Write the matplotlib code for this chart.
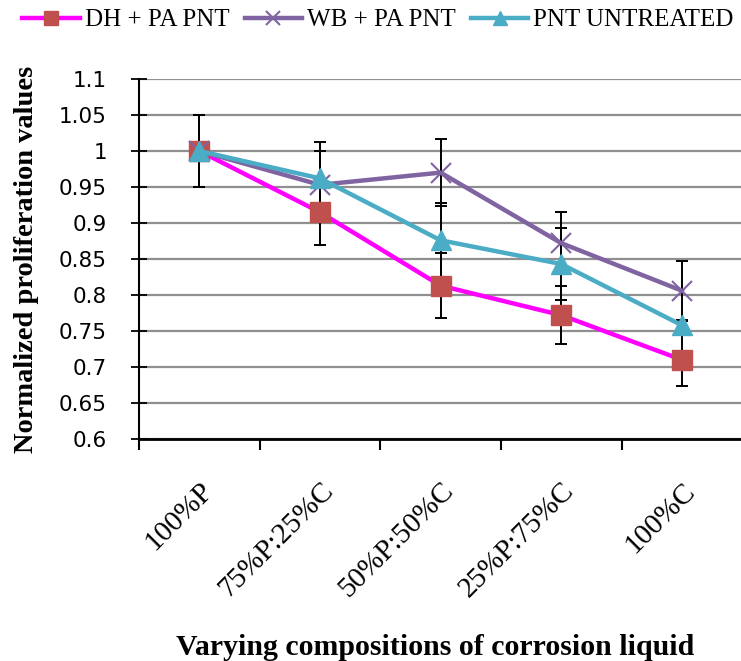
import numpy as np
import matplotlib
matplotlib.use("Agg")
import matplotlib.pyplot as plt
from matplotlib.ticker import FixedLocator

categories = ["100%P", "75%P:25%C", "50%P:50%C", "25%P:75%C", "100%C"]
dh_pa = [1.0, 0.915, 0.813, 0.772, 0.710]
wb_pa = [1.0, 0.953, 0.970, 0.872, 0.806]
pnt_untreated = [1.0, 0.962, 0.876, 0.843, 0.758]
dh_err = [0.05, 0.046, 0.045, 0.040, 0.036]
wb_err = [0.05, 0.047, 0.047, 0.043, 0.041]
pnt_err = [0.05, 0.050, 0.052, 0.050, 0.006]
labels = ["DH + PA PNT", "WB + PA PNT", "PNT UNTREATED"]
yticks = [0.6, 0.65, 0.7, 0.75, 0.8, 0.85, 0.9, 0.95, 1.0, 1.05, 1.1]
ytick_labels = ["0.6", "0.65", "0.7", "0.75", "0.8", "0.85", "0.9", "0.95", "1", "1.05", "1.1"]

SERIF = "Liberation Serif"

fig = plt.figure(figsize=(7.41, 6.61), dpi=100)
ax = fig.add_axes([139 / 741, 1 - 439 / 661, 602 / 741, 360 / 661])

x = np.arange(len(categories))

# error bars under the lines
for vals, err in [(dh_pa, dh_err), (wb_pa, wb_err), (pnt_untreated, pnt_err)]:
    ax.errorbar(x, vals, yerr=err, fmt="none", ecolor="black", elinewidth=1.4,
                capsize=4.5, capthick=1.4, zorder=2)

ax.plot(x, dh_pa, color="#FF00FF", lw=3.2, marker="s", ms=14,
        mfc="#C0504D", mec="#C0504D", label=labels[0], zorder=3)
ax.plot(x, wb_pa, color="#8064A2", lw=3.2, marker="x", ms=14, mew=1.5,
        label=labels[1], zorder=4)
ax.plot(x, pnt_untreated, color="#4BACC6", lw=3.2, marker="^", ms=14,
        label=labels[2], zorder=5)

ax.set_xlim(-0.5, 4.49)
ax.set_ylim(0.6, 1.1)
ax.set_yticks(yticks)
ax.set_yticklabels(ytick_labels, fontfamily="DejaVu Sans", fontsize=15.5)
ax.grid(axis="y", color="#8f8f8f", lw=1.6)
ax.set_axisbelow(True)

ax.set_xticks(x)
ax.set_xticklabels(categories, rotation=45, ha="right", va="top",
                   rotation_mode="anchor", fontfamily=SERIF, fontsize=21)
ax.tick_params(axis="x", which="major", length=0, pad=28)
ax.xaxis.set_minor_locator(FixedLocator(np.arange(-0.5, 4.5, 1.0)))
ax.tick_params(axis="x", which="minor", length=8, width=1.5, direction="out")
ax.tick_params(axis="y", which="major", length=12, width=1.3, direction="inout", pad=17)

for s in ["top", "right"]:
    ax.spines[s].set_visible(False)
ax.spines["left"].set_linewidth(1.5)
ax.spines["bottom"].set_linewidth(2)

ax.set_ylabel("Normalized proliferation values", fontfamily=SERIF,
              fontweight="bold", fontsize=20.5)
ax.yaxis.set_label_coords(-0.166, 0.5)
ax.set_xlabel("Varying compositions of corrosion liquid", fontfamily=SERIF,
              fontweight="bold", fontsize=21.5)
ax.xaxis.set_label_coords(0.4925, -0.542)

ax.legend(loc="center", bbox_to_anchor=((378 - 139) / 602, (439 - 20) / 360),
          ncol=3, frameon=False, prop={"family": SERIF, "size": 18},
          handlelength=2.3, handletextpad=0.2, columnspacing=0.6, markerscale=0.75)

fig.savefig("out.png", dpi=100)
